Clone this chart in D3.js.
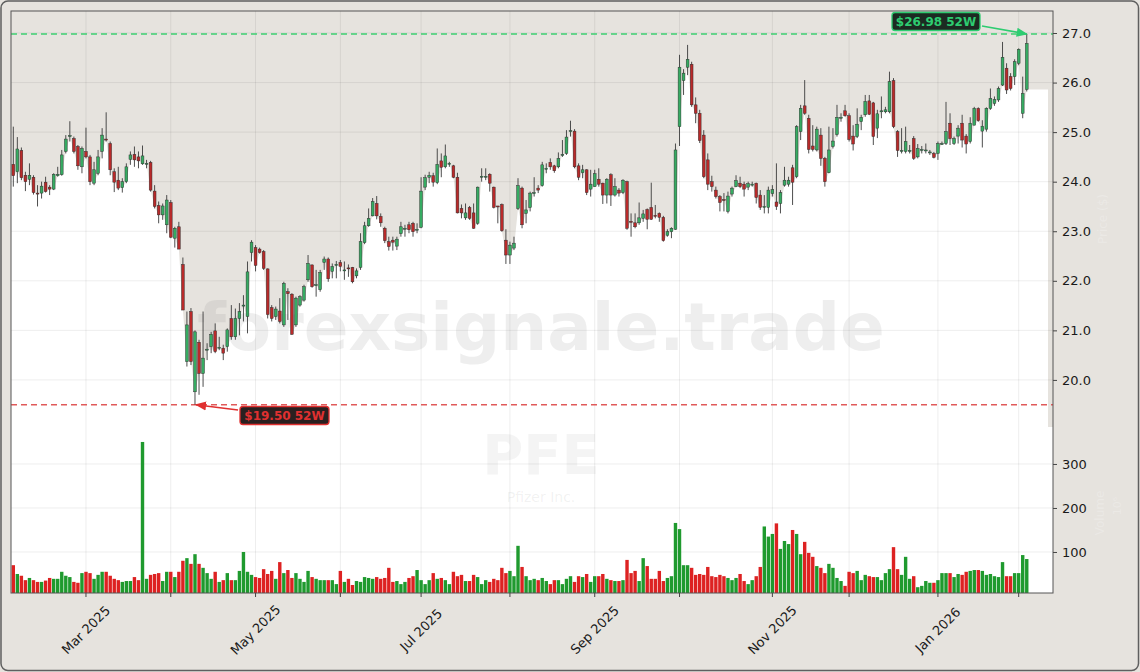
<!DOCTYPE html>
<html><head><meta charset="utf-8">
<script src="https://cdn.jsdelivr.net/npm/d3@7"></script>
<style>html,body{margin:0;padding:0;background:#e6e3de;}svg{display:block;font-family:"DejaVu Sans",sans-serif;}</style>
</head><body>
<svg id="chart" width="1140" height="672"></svg>
<script>
// ---------- DATA ----------
const openP = [24.35,24.20,24.63,24.13,24.05,24.09,23.77,23.77,23.99,23.89,23.85,24.12,24.14,24.61,24.91,24.87,24.71,24.30,24.61,24.50,23.97,24.17,24.61,24.86,24.77,24.20,24.03,23.88,24.00,24.45,24.55,24.50,24.36,24.36,24.39,23.81,23.52,23.33,23.13,23.58,22.86,23.09,22.33,20.37,21.38,19.76,20.76,20.13,20.60,20.67,20.99,20.65,20.64,20.67,21.24,20.87,21.24,21.50,21.28,22.57,22.67,22.64,22.59,22.24,21.46,21.28,21.39,21.11,21.78,21.73,21.11,21.51,21.61,22.02,22.32,21.91,21.82,22.37,22.44,22.19,22.32,22.37,22.22,22.26,22.27,22.10,22.27,22.77,23.11,23.31,23.56,23.30,23.06,22.79,22.82,22.70,22.95,23.05,23.13,23.16,23.04,23.08,23.89,24.09,24.12,23.98,24.42,24.30,24.37,24.32,24.09,23.46,23.27,23.48,23.37,23.16,24.10,24.11,24.15,23.89,23.51,23.54,22.82,22.52,22.66,23.46,23.87,23.36,23.48,23.78,23.87,23.92,24.27,24.39,24.32,24.30,24.55,24.57,25.03,25.02,24.32,24.18,24.24,23.85,23.90,24.05,23.97,23.73,24.14,23.73,23.83,23.78,24.00,23.20,23.17,23.17,23.26,23.44,23.48,23.32,23.36,23.28,22.92,22.99,23.04,25.11,26.04,26.31,26.37,25.55,25.38,24.94,24.44,24.00,23.83,23.70,23.64,23.40,23.75,23.90,23.97,23.95,23.89,23.95,23.97,23.73,23.50,23.48,23.76,23.59,23.56,23.93,23.95,24.28,24.10,25.01,25.53,25.28,24.72,24.64,24.94,24.47,24.18,24.71,24.95,25.30,25.43,25.33,24.92,24.91,25.21,25.35,25.63,25.59,25.08,25.43,25.41,25.41,26.04,25.01,24.63,24.61,24.63,24.87,24.50,24.65,24.64,24.60,24.57,24.57,24.77,24.77,25.18,24.77,24.92,25.18,24.92,24.81,25.14,25.48,25.02,25.06,25.48,25.58,25.65,25.95,26.29,26.12,26.12,26.39,25.38,25.86];
const highP = [25.11,24.90,24.69,24.20,24.37,24.13,23.93,24.00,24.10,23.93,24.17,24.30,24.64,24.94,25.22,24.91,24.74,24.71,25.09,24.54,24.40,24.64,25.08,25.40,24.81,24.27,24.30,24.07,24.37,24.61,24.71,24.61,24.73,24.44,24.42,23.93,23.60,23.56,23.73,23.63,23.09,23.19,22.47,21.38,21.45,21.00,20.81,21.38,20.74,20.97,21.14,20.87,20.71,21.04,21.51,21.44,21.55,21.71,22.39,22.82,22.72,22.67,22.62,22.25,21.51,21.48,21.65,21.98,21.85,21.75,21.68,21.71,21.92,22.52,22.33,22.22,22.22,22.49,22.47,22.35,22.40,22.42,22.39,22.33,22.28,22.25,22.96,23.19,23.46,23.67,23.71,23.36,23.09,22.89,22.89,22.89,23.19,23.13,23.19,23.19,23.16,24.09,24.14,24.20,24.18,24.67,24.57,24.75,24.40,24.34,24.18,23.54,23.56,23.51,23.56,23.90,24.27,24.27,24.17,23.90,23.51,23.56,23.04,22.79,22.89,24.07,23.90,23.63,23.80,24.09,23.93,24.40,24.37,24.47,24.34,24.59,24.84,25.04,25.23,25.06,24.37,24.34,24.25,24.24,24.24,24.27,23.98,24.07,24.17,24.07,23.87,24.05,24.02,23.36,23.36,23.58,23.43,23.46,23.98,23.53,23.38,23.31,23.04,23.08,24.77,26.56,26.27,26.76,26.42,25.70,25.45,25.04,24.57,24.12,23.90,23.73,23.77,23.80,23.90,24.13,24.10,24.00,24.00,24.00,23.98,23.83,23.73,23.90,23.93,24.37,23.83,24.30,24.10,24.34,25.14,25.55,26.05,25.35,25.14,25.11,25.08,24.50,25.11,25.08,25.55,25.38,25.55,25.38,25.14,25.48,25.35,25.75,25.75,25.61,25.45,25.72,25.51,26.22,26.09,25.04,25.08,25.11,24.74,24.92,24.76,24.72,24.77,24.64,24.60,24.81,24.81,25.61,25.38,24.91,25.14,25.35,24.96,25.30,25.51,25.50,25.24,25.50,25.88,25.72,25.92,26.82,26.39,26.19,26.47,26.69,26.12,26.98];
const lowP = [23.90,23.97,24.03,23.81,23.93,23.74,23.50,23.66,23.78,23.73,23.83,24.10,24.12,24.57,24.81,24.57,24.24,24.17,24.47,23.93,23.93,24.13,24.47,24.81,24.13,23.79,23.83,23.78,23.97,24.34,24.30,24.27,24.34,24.27,23.80,23.46,23.16,23.23,22.96,22.86,22.67,22.64,21.41,20.27,20.30,19.50,19.70,19.86,20.40,20.54,20.54,20.60,20.40,20.57,20.81,20.81,20.90,21.18,20.94,22.39,22.19,22.55,22.22,21.24,21.18,21.21,21.14,21.07,21.21,20.91,21.07,21.48,21.58,21.98,21.86,21.68,21.78,22.22,21.98,22.05,22.05,22.19,22.02,22.08,21.95,22.05,22.22,22.74,23.09,23.30,23.24,23.09,22.76,22.61,22.61,22.62,22.89,22.89,22.96,22.89,22.96,23.06,23.83,23.97,23.90,23.95,24.09,24.27,24.30,24.07,23.36,23.26,23.23,23.23,23.05,23.13,24.00,24.03,23.80,23.46,23.16,22.99,22.34,22.34,22.62,23.43,23.06,23.16,23.40,23.70,23.77,23.90,24.17,24.24,24.18,24.27,24.50,24.54,24.91,24.27,24.03,24.07,23.73,23.70,23.90,23.90,23.55,23.56,23.51,23.70,23.70,23.75,23.03,22.89,23.06,23.13,23.19,23.04,23.23,23.26,23.19,22.79,22.89,22.86,23.03,24.72,25.75,26.15,25.51,25.18,24.78,24.07,23.83,23.80,23.66,23.40,23.40,23.36,23.70,23.89,23.87,23.70,23.83,23.90,23.56,23.43,23.36,23.36,23.70,23.43,23.36,23.90,23.90,23.53,24.07,24.84,25.35,24.57,24.61,24.61,24.32,23.90,24.17,24.67,24.91,25.21,25.31,24.81,24.63,24.88,25.04,25.31,25.35,24.74,24.88,25.28,25.38,25.38,25.08,24.50,24.57,24.57,24.57,24.44,24.47,24.57,24.57,24.54,24.47,24.44,24.74,24.74,24.74,24.74,24.77,24.69,24.57,24.77,25.14,25.21,24.69,25.01,25.45,25.53,25.61,25.93,25.77,25.84,25.95,26.35,25.28,25.82];
const closeP = [24.12,24.66,24.08,24.00,24.13,23.78,23.75,23.91,23.80,23.85,24.15,24.15,24.54,24.86,24.93,24.61,24.32,24.67,24.50,24.00,24.24,24.50,24.94,24.85,24.24,23.99,23.87,24.00,24.30,24.54,24.44,24.42,24.52,24.37,23.83,23.50,23.33,23.51,23.63,22.88,23.06,22.64,21.41,21.11,20.37,20.97,20.13,20.44,20.62,20.92,20.57,20.66,20.54,21.01,20.87,21.24,21.38,21.51,22.18,22.78,22.31,22.57,22.25,21.32,21.24,21.43,21.18,21.95,21.74,20.92,21.65,21.68,21.88,22.35,21.88,21.92,22.17,22.44,22.04,22.29,22.33,22.29,22.22,22.25,21.98,22.20,22.79,23.11,23.26,23.60,23.31,23.17,22.81,22.69,22.78,22.84,23.09,23.06,23.03,22.99,23.04,23.81,24.08,24.13,23.99,24.35,24.29,24.52,24.37,24.09,23.37,23.37,23.37,23.26,23.06,23.89,24.11,24.11,23.97,23.48,23.50,23.01,22.52,22.72,22.76,23.92,23.13,23.43,23.77,23.78,23.83,24.34,24.27,24.30,24.22,24.47,24.55,24.90,25.03,24.30,24.09,24.24,23.78,23.95,24.16,23.95,23.73,24.05,23.73,23.90,23.77,24.03,23.06,23.19,23.09,23.27,23.35,23.24,23.24,23.31,23.28,22.81,22.99,23.06,24.64,26.31,26.19,26.47,25.55,25.38,24.83,24.10,23.95,23.90,23.70,23.58,23.62,23.71,23.87,24.02,23.90,23.85,23.96,23.95,23.68,23.48,23.50,23.83,23.84,23.50,23.78,24.03,24.03,23.99,25.11,25.48,25.38,24.65,24.65,25.06,24.47,24.00,24.64,24.82,25.30,25.30,25.33,24.85,24.76,25.16,25.30,25.62,25.36,24.91,25.37,25.43,25.45,26.02,25.11,24.63,24.63,24.81,24.63,24.47,24.67,24.65,24.64,24.60,24.49,24.77,24.77,25.01,24.87,24.87,25.08,24.84,24.76,25.18,25.48,25.23,25.12,25.48,25.68,25.66,25.88,26.51,25.85,25.88,26.42,26.67,25.78,26.79];
const volumeM = [70,50,46,36,41,36,32,32,35,41,39,39,55,46,43,32,30,52,55,52,39,48,55,55,46,39,36,32,34,34,43,36,350,39,48,50,52,34,55,55,43,55,80,86,73,95,73,64,52,39,55,32,36,52,36,36,57,100,55,48,43,41,61,50,57,39,77,52,59,41,52,39,32,57,43,39,36,36,36,36,27,57,32,39,25,34,32,43,41,39,43,
39,41,64,32,34,27,32,41,45,59,36,27,36,52,39,41,36,27,55,45,48,34,34,48,43,27,36,32,39,36,64,52,57,45,
114,
66,45,36,39,36,41,34,27,36,36,27,39,45,32,45,43,50,32,45,45,50,39,36,34,34,36,
82,52,57,34,86,68,39,39,57,34,41,45,
166,152,
70,70,64,48,50,48,66,45,43,48,45,41,36,41,50,34,27,36,45,66,
158,135,141,165,107,125,118,150,141,95,123,98,89,68,64,52,73,64,41,34,23,55,52,57,36,48,45,43,43,36,52,61,111,61,48,89,39,45,20,23,34,30,30,36,52,52,52,43,50,48,55,57,59,59,57,48,50,45,43,77,45,45,52,52,93,84];
const priceTicks = [20,21,22,23,24,25,26,27];
const volumeTicks = [100,200,300];
const xTickIdx = [18,39,60,81,101,123,144,165,188,207,229,249];
const xTickLabels = ["Mar 2025","","May 2025","","Jul 2025","","Sep 2025","","Nov 2025","","Jan 2026",""];
const high52 = 26.98, low52 = 19.50;
const high52Label = "$26.98 52W", low52Label = "$19.50 52W";
const high52Idx = 251, low52Idx = 45;
const watermark = "forexsignale.trade", ticker = "PFE", company = "Pfizer Inc.";

// ---------- LAYOUT ----------
const L = 11, R = 1053, T = 11, PB = 427, VB = 593;
const svg = d3.select("#chart");
const BG = "#e6e3de";
const candles = openP.map((o,i)=>({i,o,h:highP[i],l:lowP[i],c:closeP[i],v:volumeM[i]}));

const xs = d3.scaleLinear().domain([-0.57, 257.5]).range([L, R]);
const yP = d3.scaleLinear().domain([19.05, 27.444]).range([PB, T]);
const yV = d3.scaleLinear().domain([6.8, 384]).range([VB, PB]);

// figure background & border
svg.append("rect").attr("x",0).attr("y",0).attr("width",1140).attr("height",672).attr("fill",BG);
svg.append("rect").attr("x",1).attr("y",1).attr("width",1137.5).attr("height",669.5).attr("rx",7)
  .attr("fill","none").attr("stroke","#5f5f5f").attr("stroke-width",1.5);

// price panel
svg.append("rect").attr("x",L).attr("y",T).attr("width",R-L).attr("height",PB-T).attr("fill",BG);
const areaPts = [[L, Math.min(openP[0],closeP[0])]]
  .concat(candles.map(d=>[xs(d.i), Math.min(d.o,d.c)]));
const lastV = Math.min(openP[openP.length-1], closeP[closeP.length-1]);
areaPts.push([R-5, lastV]);
const area = d3.area().x(d=>d[0]).y0(PB).y1(d=>yP(d[1]));
svg.append("path").datum(areaPts).attr("d",area).attr("fill","#ffffff");
// volume panel
svg.append("rect").attr("x",L).attr("y",PB).attr("width",R-L).attr("height",VB-PB).attr("fill","#ffffff");

// grid
const grid = svg.append("g").attr("stroke","rgba(0,0,0,0.09)").attr("stroke-width",0.8);
priceTicks.forEach(t=>grid.append("line").attr("x1",L).attr("x2",R).attr("y1",yP(t)).attr("y2",yP(t)));
volumeTicks.forEach(t=>grid.append("line").attr("x1",L).attr("x2",R).attr("y1",yV(t)).attr("y2",yV(t)));
xTickIdx.forEach(t=>grid.append("line").attr("x1",xs(t)).attr("x2",xs(t)).attr("y1",T).attr("y2",VB));

// watermark
svg.append("text").attr("x",541).attr("y",350).attr("text-anchor","middle")
  .attr("font-size",66).attr("font-weight","bold").attr("fill","rgba(120,120,120,0.13)").text(watermark);
svg.append("text").attr("x",541).attr("y",474).attr("text-anchor","middle")
  .attr("font-size",56).attr("font-weight","bold").attr("fill","rgba(120,120,120,0.08)").text(ticker);
svg.append("text").attr("x",541).attr("y",502).attr("text-anchor","middle")
  .attr("font-size",14).attr("fill","rgba(120,120,120,0.10)").text(company);

// 52W lines
svg.append("line").attr("x1",L).attr("x2",R).attr("y1",yP(high52)).attr("y2",yP(high52))
  .attr("stroke","#3fcf72").attr("stroke-width",1.6).attr("stroke-dasharray","6,4");
svg.append("line").attr("x1",L).attr("x2",R).attr("y1",yP(low52)).attr("y2",yP(low52))
  .attr("stroke","#e05a5a").attr("stroke-width",1.6).attr("stroke-dasharray","6,4");

// candles
const cw = 2.8;
const cg = svg.append("g");
cg.selectAll("line.w").data(candles).join("line")
  .attr("x1",d=>xs(d.i)).attr("x2",d=>xs(d.i)).attr("y1",d=>yP(d.h)).attr("y2",d=>yP(d.l))
  .attr("stroke","#3a3a3a").attr("stroke-width",0.9);
cg.selectAll("rect.b").data(candles).join("rect")
  .attr("x",d=>xs(d.i)-cw/2).attr("width",cw)
  .attr("y",d=>yP(Math.max(d.o,d.c)))
  .attr("height",d=>Math.max(1,Math.abs(yP(d.o)-yP(d.c))))
  .attr("fill",d=>d.c>=d.o?"#36ab62":"#b92a2a")
  .attr("stroke","#2b2b2b").attr("stroke-width",0.45);

// volume bars
const vw = 3.4;
svg.append("g").selectAll("rect").data(candles).join("rect")
  .attr("x",d=>xs(d.i)-vw/2).attr("width",vw)
  .attr("y",d=>yV(d.v)).attr("height",d=>VB-yV(d.v))
  .attr("fill",d=>d.c>=d.o?"#1f9a2e":"#dd2222");

// frame
svg.append("rect").attr("x",L).attr("y",T).attr("width",R-L).attr("height",VB-T)
  .attr("fill","none").attr("stroke","#555").attr("stroke-width",1);

// axes
const axP = d3.axisRight(yP).tickValues(priceTicks).tickFormat(d3.format(".1f")).tickSize(4).tickPadding(5);
const axV = d3.axisRight(yV).tickValues(volumeTicks).tickFormat(d3.format("d")).tickSize(4).tickPadding(5);
[axP,axV].forEach(ax=>{
  const g = svg.append("g").attr("transform",`translate(${R},0)`).call(ax);
  g.select(".domain").remove();
  g.selectAll("text").attr("font-size",13).attr("fill","#1a1a1a").attr("font-family","DejaVu Sans");
  g.selectAll("line").attr("stroke","#444");
});
const xg = svg.append("g");
xTickIdx.forEach((t,k)=>{
  xg.append("line").attr("x1",xs(t)).attr("x2",xs(t)).attr("y1",VB).attr("y2",VB+4).attr("stroke","#444");
  if (xTickLabels[k]) {
    xg.append("text").attr("transform",`translate(${xs(t)},${VB+37}) rotate(-45)`)
      .attr("text-anchor","middle").attr("dominant-baseline","central")
      .attr("font-size",13).attr("fill","#1a1a1a").text(xTickLabels[k]);
  }
});

// faint axis labels
svg.append("text").attr("transform","translate(1107,219) rotate(-90)").attr("text-anchor","middle")
  .attr("font-size",12).attr("fill","rgba(255,255,255,0.22)").text("Price ($)");
svg.append("text").attr("transform","translate(1104,513) rotate(-90)").attr("text-anchor","middle")
  .attr("font-size",12).attr("fill","rgba(255,255,255,0.22)").text("Volume");
svg.append("text").attr("transform","translate(1121,506) rotate(-90)").attr("text-anchor","middle")
  .attr("font-size",11).attr("fill","rgba(255,255,255,0.22)").text("10⁶");

// annotations
function marker(id,color){
  svg.append("defs").append("marker").attr("id",id).attr("viewBox","0 0 10 10").attr("refX",9).attr("refY",5)
    .attr("markerWidth",7).attr("markerHeight",7).attr("orient","auto")
    .append("path").attr("d","M0,1 L10,5 L0,9 z").attr("fill",color);
}
marker("ag","#2ecc71"); marker("ar","#e03030");
svg.append("line").attr("x1",982).attr("y1",26).attr("x2",xs(high52Idx)).attr("y2",yP(high52))
  .attr("stroke","#2ecc71").attr("stroke-width",1.6).attr("marker-end","url(#ag)");
svg.append("rect").attr("x",892).attr("y",12.5).attr("width",88).attr("height",18).attr("rx",3)
  .attr("fill","#1c2a22").attr("stroke","#2ecc71").attr("stroke-width",1.3);
svg.append("text").attr("x",936).attr("y",25.5).attr("text-anchor","middle").attr("font-size",12)
  .attr("font-weight","bold").attr("fill","#2ecc71").text(high52Label);

svg.append("line").attr("x1",238).attr("y1",410).attr("x2",xs(low52Idx)+1).attr("y2",yP(low52))
  .attr("stroke","#e03030").attr("stroke-width",1.6).attr("marker-end","url(#ar)");
svg.append("rect").attr("x",240).attr("y",406.5).attr("width",89).attr("height",18).attr("rx",3)
  .attr("fill","#2a2020").attr("stroke","#e03030").attr("stroke-width",1.3);
svg.append("text").attr("x",284.5).attr("y",419.5).attr("text-anchor","middle").attr("font-size",12)
  .attr("font-weight","bold").attr("fill","#e03030").text(low52Label);
</script>
</body></html>
